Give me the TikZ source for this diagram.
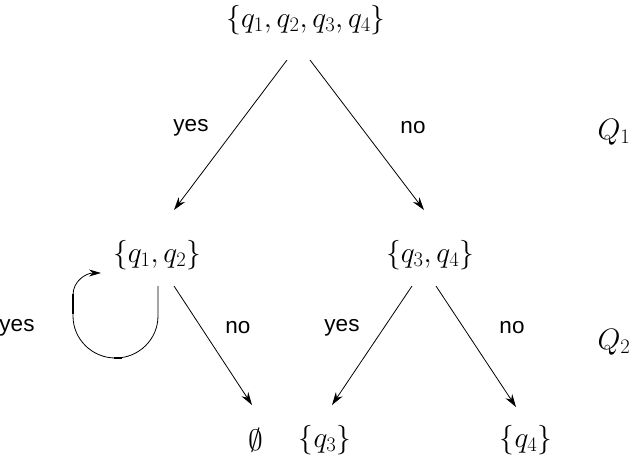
\documentclass[tikz,border=0pt]{standalone}
\usepackage{fix-cm}
\usepackage{fontspec}
\newfontfamily\labfont{Liberation Sans}
\usetikzlibrary{arrows.meta}
\begin{document}
\begin{tikzpicture}[x=1pt,y=-1pt,
  setnode/.style={inner sep=0pt,font=\fontsize{29.5}{35}\selectfont},
  lab/.style={inner sep=0pt,font=\labfont\fontsize{22.5}{26}\selectfont},
  qlab/.style={inner sep=0pt,font=\fontsize{29.5}{35}\selectfont},
  edge/.style={line width=0.8pt,-{Stealth[length=13pt,width=8pt]}},
  loopline/.style={line width=0.8pt}]
\useasboundingbox (0,0) rectangle (632,456);
\node[setnode] (top) at (306,20) {$\{q_1,q_2,q_3,q_4\}$};
\node[setnode] (a) at (157,255) {$\{q_1,q_2\}$};
\node[setnode] (b) at (430,255) {$\{q_3,q_4\}$};
\node[setnode] (e) at (256,440) {$\emptyset$};
\node[setnode] (c) at (325,440) {$\{q_3\}$};
\node[setnode] (d) at (526,440) {$\{q_4\}$};
\node[lab] (y1) at (191,128) {yes};
\node[lab] (n1) at (413,128) {no};
\node[lab] (y2) at (17,328) {yes};
\node[lab] (n2) at (238,328) {no};
\node[lab] (y3) at (342,328) {yes};
\node[lab] (n3) at (512,328) {no};
\node[qlab] (q1) at (614,132) {$Q_1$};
\node[qlab] (q2) at (614,342) {$Q_2$};
\coordinate (t1) at (287,60);
\coordinate (t2) at (310,60);
\coordinate (a1) at (174,210);
\coordinate (b1) at (424,210);
\coordinate (a2) at (174,286);
\coordinate (e1) at (252,405);
\coordinate (b2) at (412,286);
\coordinate (c1) at (332,405);
\coordinate (b3) at (436,286);
\coordinate (d1) at (516,407);
\draw[edge] (t1) -- (a1);
\draw[edge] (t2) -- (b1);
\draw[edge] (a2) -- (e1);
\draw[edge] (b2) -- (c1);
\draw[edge] (b3) -- (d1);
% self loop
\coordinate (l0) at (158,286);
\coordinate (l1) at (158,316);
\coordinate (l3) at (73,295);
\coordinate (l4) at (101,273);
\draw[loopline,-{Stealth[length=12pt,width=7pt]}] (l0) -- (l1) arc[start angle=0,end angle=180,x radius=42.5,y radius=42] -- (l3) .. controls (73,281) and (86,273) .. (l4);
\draw[line width=2pt] (73,294) -- (73,314);
\draw[line width=2pt] (114,358) -- (122,358);
\end{tikzpicture}
\end{document}
